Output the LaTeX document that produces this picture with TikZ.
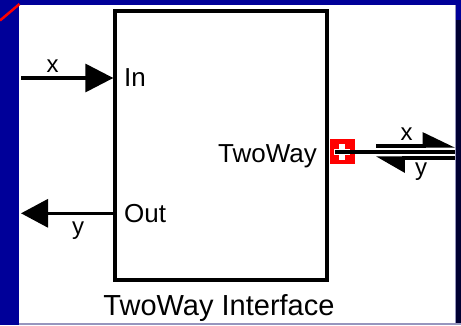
\documentclass[tikz,border=0pt]{standalone}
\usepackage{fontspec}
\setmainfont{Liberation Sans}
\usetikzlibrary{arrows.meta}
\definecolor{bgblue}{RGB}{0,0,153}
\definecolor{navy}{RGB}{0,0,51}
\definecolor{edgegray}{RGB}{150,150,190}
\definecolor{portred}{RGB}{255,0,0}
\tikzset{
  sig/.style={line width=3.2pt},
  lbl/.style={inner sep=0pt, font=\fontsize{26}{30}\selectfont},
  small/.style={inner sep=0pt, font=\fontsize{24}{28}\selectfont},
  title/.style={inner sep=0pt, font=\fontsize{29}{34}\selectfont},
  blockbox/.style={draw, line width=3.3pt, inner sep=0pt, minimum width=212pt, minimum height=269pt},
  portbox/.style={fill=portred, inner sep=0pt, minimum size=25pt},
}
\begin{document}
\begin{tikzpicture}[x=1pt,y=-1pt]
\useasboundingbox (0,0) rectangle (461,325);
% background
\fill[bgblue] (0,0) rectangle (461,325);
\fill[navy] (455,20) rectangle (461,323);
\fill[white] (19,5) rectangle (455,323);
\fill[edgegray] (455,5) rectangle (456,323);
\fill[edgegray] (19,323) rectangle (461,325);
\draw[portred, line width=2.5pt] (0,20.5) -- (19.5,4);
% block
\node[blockbox] (box) at (221,145.5) {};
\node[lbl, anchor=west] (inlbl) at (124,78) {In};
\node[lbl, anchor=west] (outlbl) at (124,213.5) {Out};
\node[lbl, anchor=base east] (twlbl) at (317,162) {TwoWay};
\node[title, anchor=base] (titlelbl) at (219,315) {TwoWay Interface};
% input
\coordinate (inL) at (21,78);
\draw[sig, -{Triangle[length=28pt,width=28pt]}] (inL) -- (inL -| box.west);
\node[small, anchor=base] (xl) at (52.5,72) {x};
% output
\coordinate (outL) at (21,213.3);
\draw[sig, -{Triangle[length=27pt,width=28pt]}] (outL -| box.west) -- (outL);
\node[small, anchor=base] (yl) at (78,234) {y};
% port
\node[portbox] (port) at (342,151.5) {};
\fill[white] (338.5,143.5) rectangle (344.5,159.5);
\fill[white] (334,148.5) rectangle (349.5,155);
\coordinate (pin) at (335,152);
\coordinate (rend) at (455,152);
\draw[sig] (pin) -- (rend);
% bidirectional pair
\coordinate (ua) at (376,146);
\coordinate (ub) at (455,146);
\coordinate (la) at (376,158);
\coordinate (lb) at (455,158);
\draw[sig, -{Triangle[harpoon,length=29pt,width=27pt]}] (ua) -- (ub);
\draw[sig, -{Triangle[harpoon,length=26pt,width=29pt]}] (lb) -- (la);
\node[small, anchor=base] (xr) at (406.5,140) {x};
\node[small, anchor=base] (yr) at (421,175) {y};
\end{tikzpicture}
\end{document}
